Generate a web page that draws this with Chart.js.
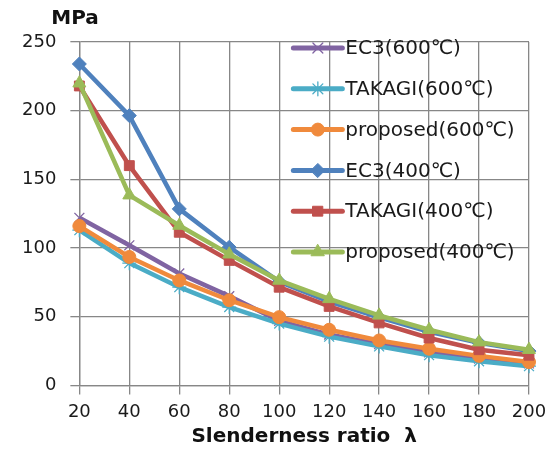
<!DOCTYPE html>
<html>
<head>
<meta charset="utf-8">
<script src="https://cdn.jsdelivr.net/npm/chart.js@4"></script>
<style>
  html, body { margin: 0; padding: 0; background: #fff; }
  #wrap { width: 549px; height: 450px; position: relative; }
</style>
</head>
<body>
<div id="wrap"><canvas id="c"></canvas></div>
<script>
// Slenderness ratio (x categories)
const LAMBDA = [20, 40, 60, 80, 100, 120, 140, 160, 180, 200];

// Stress values, MPa
const EC3_600      = [122, 102, 81.5, 65, 47, 37, 30, 24, 19.5, 16];
const TAKAGI_600   = [113, 89, 71.5, 57, 45, 35.5, 28.4, 22, 17.5, 14];
const PROPOSED_600 = [116, 93.5, 76.4, 62, 49.7, 40.5, 32.7, 26.7, 21.5, 17];
const EC3_400      = [234, 196.4, 128.5, 100.6, 75.5, 61, 49.5, 39, 31, 25];
const TAKAGI_400   = [218, 160, 111.5, 91, 71.5, 57.5, 45.5, 34.5, 26, 22];
const PROPOSED_400 = [220, 138.5, 116.4, 95.5, 76.4, 63, 51, 40.5, 31.5, 26];

const Y_TICKS = [0, 50, 100, 150, 200, 250];

const FONT = '"DejaVu Sans", sans-serif';

const SERIES = [
  { label: 'EC3(600℃)',      data: EC3_600,      color: '#8064A2', style: 'crossRot', r: 7, bw: 1.3 },
  { label: 'TAKAGI(600℃)',   data: TAKAGI_600,   color: '#4BACC6', style: 'star',     r: 7, bw: 1.3 },
  { label: 'proposed(600℃)', data: PROPOSED_600, color: '#F08A3C', style: 'circle',   r: 6.5, bw: 1 },
  { label: 'EC3(400℃)',      data: EC3_400,      color: '#4F81BD', style: 'rectRot',  r: 7, bw: 1 },
  { label: 'TAKAGI(400℃)',   data: TAKAGI_400,   color: '#C0504D', style: 'rect',     r: 7, bw: 1 },
  { label: 'proposed(400℃)', data: PROPOSED_400, color: '#9BBB59', style: 'triangle', r: 7.5, bw: 1 },
];

// Legend drawn inside the plot, rows down the right side
const legendInside = {
  id: 'legendInside',
  afterDatasetsDraw(chart) {
    const ctx = chart.ctx;
    const area = chart.chartArea;
    const x0 = area.left + 214, x1 = area.left + 263, tx = area.left + 266;
    ctx.save();
    ctx.font = '20px ' + FONT;
    ctx.textBaseline = 'middle';
    ctx.fillStyle = '#1a1a1a';
    chart.data.datasets.forEach((ds, i) => {
      const y = area.top + 6 + i * 40.8;
      ctx.strokeStyle = ds.borderColor;
      ctx.lineWidth = 5;
      ctx.lineCap = 'round';
      ctx.beginPath();
      ctx.moveTo(x0, y);
      ctx.lineTo(x1, y);
      ctx.stroke();
      ctx.fillStyle = ds.pointBackgroundColor;
      ctx.strokeStyle = ds.pointBorderColor;
      ctx.lineWidth = ds.pointBorderWidth;
      Chart.helpers.drawPoint(ctx, { pointStyle: ds.pointStyle, radius: ds.pointRadius, borderWidth: ds.pointBorderWidth, rotation: 0 }, (x0 + x1) / 2, y);
      ctx.fillStyle = '#1a1a1a';
      ctx.fillText(ds.label, tx, y + 1);
    });
    ctx.restore();
  }
};

// "MPa" unit label above the y axis
const unitLabel = {
  id: 'unitLabel',
  afterDraw(chart) {
    const ctx = chart.ctx;
    ctx.save();
    ctx.font = 'bold 20px ' + FONT;
    ctx.fillStyle = '#111';
    ctx.textAlign = 'center';
    ctx.textBaseline = 'middle';
    ctx.fillText('MPa', 75, 19);
    ctx.restore();
  }
};

new Chart(document.getElementById('c'), {
  type: 'line',
  data: {
    labels: LAMBDA,
    datasets: SERIES.map((s, i) => ({
      label: s.label,
      data: s.data,
      borderColor: s.color,
      backgroundColor: s.color,
      borderWidth: 4.5,
      pointStyle: s.style,
      pointRadius: s.r,
      pointBackgroundColor: s.color,
      pointBorderColor: s.color,
      pointBorderWidth: s.bw,
      tension: 0,
      order: SERIES.length - 1 - i,
    })),
  },
  options: {
    responsive: true,
    maintainAspectRatio: false,
    animation: false,
    layout: { padding: { left: 8, right: 20, top: 42, bottom: 1 } },
    plugins: {
      legend: { display: false },
      tooltip: { enabled: false },
    },
    scales: {
      x: {
        offset: false,
        afterFit: (axis) => { axis.paddingRight = 0; },
        grid: { color: '#878787', lineWidth: 1.3, tickLength: 9 },
        border: { color: '#878787', width: 1.3 },
        ticks: { color: '#1a1a1a', font: { family: FONT, size: 18 }, padding: 7, maxRotation: 0 },
        title: {
          display: true,
          text: 'Slenderness ratio  λ',
          color: '#111',
          font: { family: FONT, size: 20, weight: 'bold' },
          padding: { top: -5, bottom: 0 },
        },
      },
      y: {
        min: 0,
        max: 250,
        afterBuildTicks: (axis) => { axis.ticks = Y_TICKS.map(v => ({ value: v })); },
        grid: { color: '#878787', lineWidth: 1.3, tickLength: 9 },
        border: { color: '#878787', width: 1.3 },
        ticks: { color: '#1a1a1a', font: { family: FONT, size: 18 }, padding: 14 },
      },
    },
  },
  plugins: [legendInside, unitLabel],
});
</script>
</body>
</html>
